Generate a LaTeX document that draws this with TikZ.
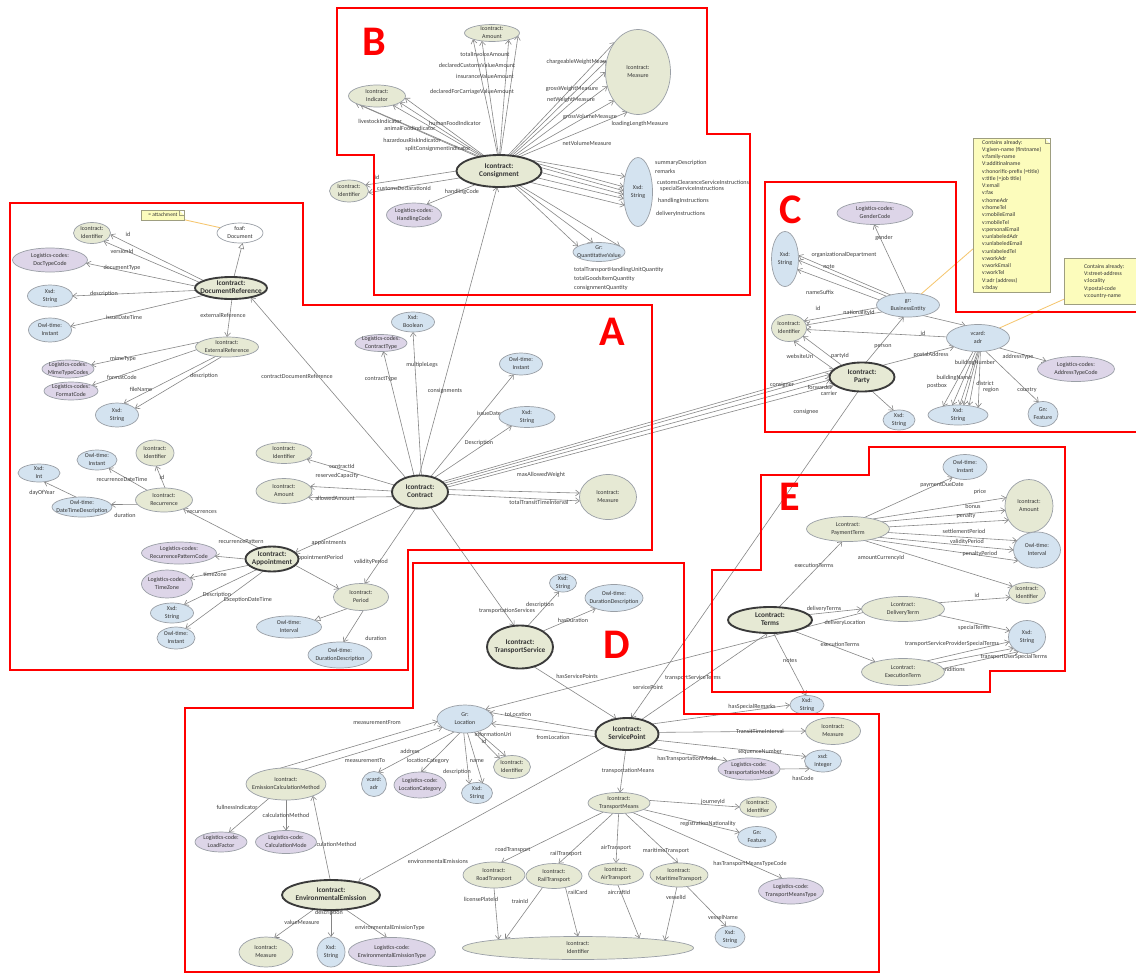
\documentclass[tikz,border=0pt]{standalone}
\usepackage{fontspec}
\setmainfont{Carlito}
\usepackage{tikz}
\usetikzlibrary{shapes.geometric,arrows.meta}

\definecolor{clsgreen}{HTML}{E6E9D4}
\definecolor{clsblue}{HTML}{D4E3F0}
\definecolor{clspurple}{HTML}{DDD5E8}
\definecolor{entline}{HTML}{9A9FA6}
\definecolor{mainline}{HTML}{3A3A3A}
\definecolor{edgegray}{HTML}{858585}
\definecolor{nodetext}{HTML}{333333}
\definecolor{labeltext}{HTML}{404040}
\definecolor{noteyellow}{HTML}{FCFCBC}
\definecolor{notegray}{HTML}{9E9E80}
\definecolor{noteorange}{HTML}{F6C66E}

\newcommand\entityfont{\fontsize{5.1}{6.3}\selectfont}
\newcommand\mainentfont{\bfseries\fontsize{6.2}{7.5}\selectfont}
\newcommand\labelfont{\fontsize{5.2}{6}\selectfont}
\newcommand\notefont{\fontsize{4.9}{6.2}\selectfont}
\newcommand\twol[2]{\makebox[0pt]{\smash{\raisebox{-1.2pt}{\begin{tabular}[c]{@{}c@{}}#1\\#2\end{tabular}}}}}

\tikzstyle{entity} = [ellipse, draw=entline, line width=0.6pt, inner sep=0pt, outer sep=0pt, text=nodetext, font=\entityfont]
\tikzstyle{classg} = [entity, fill=clsgreen]
\tikzstyle{classb} = [entity, fill=clsblue]
\tikzstyle{classp} = [entity, fill=clspurple]
\tikzstyle{classw} = [entity, fill=white]
\tikzstyle{mainc} = [entity, fill=clsgreen, draw=mainline, line width=1.6pt, font=\mainentfont]
\tikzstyle{arrow} = [draw=edgegray, line width=0.5pt, -{Straight Barb[length=3.4pt,width=5pt]}]
\tikzstyle{isa} = [draw=edgegray, line width=0.5pt, -{Triangle[open,length=5pt,width=5pt]}]
\tikzstyle{lbl} = [inner sep=0pt, text=labeltext, font=\labelfont]
\tikzstyle{notelink} = [draw=noteorange, line width=0.7pt]
\tikzstyle{region} = [draw=red, line width=2.4pt, line join=miter]
\tikzstyle{letter} = [inner sep=0pt, text=red, font=\bfseries\fontsize{36}{36}\selectfont]
\tikzstyle{notebox} = [rectangle, draw=notegray, fill=noteyellow, inner sep=1.6pt, align=left, text=black!80, font=\notefont,
  path picture={\fill[white] ([xshift=-1.6mm]path picture bounding box.north east) -- (path picture bounding box.north east) -- ([yshift=-1.6mm]path picture bounding box.north east) -- cycle;
  \draw[notegray] ([xshift=-1.6mm]path picture bounding box.north east) -- ([xshift=-1.6mm,yshift=-1.6mm]path picture bounding box.north east) -- ([yshift=-1.6mm]path picture bounding box.north east);}]
\tikzset{sz/.style 2 args={minimum width=#1*0.3mm, minimum height=#2*0.3mm}}

\pgfdeclarelayer{paper}
\pgfdeclarelayer{edgelayer}
\pgfsetlayers{paper,edgelayer,main}

\begin{document}
\begin{tikzpicture}[x=0.03cm, y=-0.03cm]
\useasboundingbox (0,0) rectangle (1136,974);
\begin{pgfonlayer}{paper}
\fill[white] (0,0) rectangle (1136,974);
\end{pgfonlayer}

% B: consignment
\node (cons) [mainc, sz={85}{32}] at (499,171) {\twol{Icontract:}{Consignment}};
\node (amtB) [classg, sz={55}{17}] at (492,33) {\twol{Icontract:}{Amount}};
\node (indB) [classg, sz={57}{22}] at (377,96) {\twol{Icontract:}{Indicator}};
\node (idB) [classg, sz={39}{22}] at (349,191) {\twol{Icontract:}{Identifier}};
\node (hcode) [classp, sz={55}{24}] at (414,215) {\twol{Logistics-codes:}{HandlingCode}};
\node (measB) [classg, sz={65}{85}] at (638,72) {\twol{Icontract:}{Measure}};
\node (strB) [classb, sz={29}{69}] at (638,192) {\twol{Xsd:}{String}};
\node (qval) [classb, sz={52}{19}] at (599,252) {\twol{Gr:}{QuantitativeValue}};

% A: document reference
\node (docref) [mainc, sz={72}{22}] at (231,288) {\twol{Icontract:}{DocumentReference}};
\node (idDoc) [classg, sz={37}{21}] at (92,233) {\twol{Icontract:}{Identifier}};
\node (foaf) [classw, sz={46}{20}] at (240,233) {\twol{foaf:}{Document}};
\node (doctype) [classp, sz={75}{24}] at (50,260) {\twol{Logistics-codes:}{DocTypeCode}};
\node (strDoc) [classb, sz={45}{22}] at (50,296) {\twol{Xsd:}{String}};
\node (instDoc) [classb, sz={43}{24}] at (50,330) {\twol{Owl-time:}{Instant}};
\node (extref) [classg, sz={63}{20}] at (227,347) {\twol{Icontract:}{ExternalReference}};
\node (mime) [classp, sz={52}{18}] at (68,369) {\twol{Logistics-codes:}{MimeTypeCodes}};
\node (fmt) [classp, sz={54}{18}] at (71,391) {\twol{Logistics-codes:}{FormatCode}};
\node (strExt) [classb, sz={43}{24}] at (117,415) {\twol{Xsd:}{String}};
\node (attach) [notebox, minimum width=43*0.3mm, minimum height=10*0.3mm, inner sep=0.5pt, font=\fontsize{4.6}{5}\selectfont] at (163,215) {= attachment};

% A: contract
\node (contract) [mainc, sz={56}{33}] at (420,492) {\twol{Icontract:}{Contract}};
\node (ctype) [classp, sz={52}{17}] at (381,343) {\twol{Logistics-codes:}{ContractType}};
\node (bool) [classb, sz={43}{20}] at (413,322) {\twol{Xsd:}{Boolean}};
\node (instCon) [classb, sz={43}{22}] at (521,364) {\twol{Owl-time:}{Instant}};
\node (strCon) [classb, sz={56}{21}] at (527,417) {\twol{Xsd:}{String}};
\node (idCon) [classg, sz={56}{21}] at (284,453) {\twol{Icontract:}{Identifier}};
\node (amtCon) [classg, sz={56}{25}] at (284,491) {\twol{Icontract:}{Amount}};
\node (measCon) [classg, sz={57}{45}] at (608,497) {\twol{Icontract:}{Measure}};

% A: appointment
\node (appt) [mainc, sz={53}{25}] at (272,559) {\twol{Icontract:}{Appointment}};
\node (rec) [classg, sz={57}{24}] at (164,500) {\twol{Icontract:}{Recurrence}};
\node (idRec) [classg, sz={38}{26}] at (155,453) {\twol{Icontract:}{Identifier}};
\node (instRec) [classb, sz={40}{20}] at (97,460) {\twol{Owl-time:}{Instant}};
\node (intRec) [classb, sz={42}{18}] at (39,473) {\twol{Xsd:}{Int}};
\node (dtdesc) [classb, sz={60}{20}] at (82,507) {\twol{Owl-time:}{DateTimeDescription}};
\node (recpat) [classp, sz={75}{22}] at (179,553) {\twol{Logistics-codes:}{RecurrencePatternCode}};
\node (tzone) [classp, sz={51}{28}] at (167,584) {\twol{Logistics-codes:}{TimeZone}};
\node (strApp) [classb, sz={43}{20}] at (172,613) {\twol{Xsd:}{String}};
\node (instApp) [classb, sz={38}{22}] at (176,638) {\twol{Owl-time:}{Instant}};
\node (period) [classg, sz={55}{27}] at (361,597) {\twol{Icontract:}{Period}};
\node (ivlPer) [classb, sz={65}{22}] at (289,627) {\twol{Owl-time:}{Interval}};
\node (durPer) [classb, sz={64}{26}] at (340,655) {\twol{Owl-time:}{DurationDescription}};

% D: transport service
\node (ts) [mainc, sz={66}{43}] at (520,647) {\twol{Icontract:}{TransportService}};
\node (strTs) [classb, sz={27}{18}] at (563,583) {\twol{Xsd:}{String}};
\node (durTs) [classb, sz={58}{27}] at (614,598) {\twol{Owl-time:}{DurationDescription}};
\node (loc) [classb, sz={56}{28}] at (465,719) {\twol{Gr:}{Location}};
\node (sp) [mainc, sz={63}{32}] at (627,734) {\twol{Icontract:}{ServicePoint}};
\node (idLoc) [classg, sz={37}{23}] at (512,767) {\twol{Icontract:}{Identifier}};
\node (strLoc) [classb, sz={31}{21}] at (477,793) {\twol{Xsd:}{String}};
\node (adrLoc) [classb, sz={25}{25}] at (374,784) {\twol{vcard:}{adr}};
\node (catLoc) [classp, sz={52}{26}] at (420,785) {\twol{Logistics-code:}{LocationCategory}};
\node (ecm) [classg, sz={80}{32}] at (286,784) {\twol{Icontract:}{EmissionCalculationMethod}};
\node (loadf) [classp, sz={52}{20}] at (221,842) {\twol{Logistics-code:}{LoadFactor}};
\node (calcm) [classp, sz={61}{23}] at (286,842) {\twol{Logistics-code:}{CalculationMode}};
\node (envem) [mainc, sz={98}{30}] at (331,895) {\twol{Icontract:}{EnvironmentalEmission}};
\node (measEm) [classg, sz={54}{30}] at (266,952) {\twol{Icontract:}{Measure}};
\node (strEm) [classb, sz={28}{30}] at (331,952) {\twol{Xsd:}{String}};
\node (typeEm) [classp, sz={87}{29}] at (392,952) {\twol{Logistics-code:}{EnvironmentalEmissionType}};
\node (strSp) [classb, sz={34}{19}] at (807,705) {\twol{Xsd:}{String}};
\node (measSp) [classg, sz={55}{27}] at (833,731) {\twol{Icontract:}{Measure}};
\node (intSp) [classb, sz={37}{22}] at (823,761) {\twol{xsd:}{Integer}};
\node (tmode) [classp, sz={62}{22}] at (749,769) {\twol{Logistics-code:}{TransportationMode}};
\node (tmeans) [classg, sz={62}{21}] at (619,803) {\twol{Icontract:}{TransportMeans}};
\node (idTm) [classg, sz={37}{20}] at (758,807) {\twol{Icontract:}{Identifier}};
\node (featTm) [classb, sz={39}{21}] at (757,837) {\twol{Gn:}{Feature}};
\node (typeTm) [classp, sz={65}{26}] at (791,891) {\twol{Logistics-code:}{TransportMeansType}};
\node (road) [classg, sz={62}{26}] at (494,875) {\twol{Icontract:}{RoadTransport}};
\node (rail) [classg, sz={56}{25}] at (554,876) {\twol{Icontract:}{RailTransport}};
\node (air) [classg, sz={55}{22}] at (616,874) {\twol{Icontract:}{AirTransport}};
\node (mar) [classg, sz={58}{24}] at (679,875) {\twol{Icontract:}{MaritimeTransport}};
\node (idBig) [classg, sz={231}{23}] at (578,948) {\twol{Icontract:}{Identifier}};
\node (strVes) [classb, sz={30}{22}] at (730,937) {\twol{Xsd:}{String}};

% E: terms
\node (terms) [mainc, sz={84}{26}] at (770,620) {\twol{Lcontract:}{Terms}};
\node (payterm) [classg, sz={83}{25}] at (848,529) {\twol{Lcontract:}{PaymentTerm}};
\node (instE) [classb, sz={44}{25}] at (965,467) {\twol{Owl-time:}{Instant}};
\node (amtE) [classg, sz={48}{53}] at (1029,506) {\twol{Icontract:}{Amount}};
\node (ivlE) [classb, sz={47}{36}] at (1037,550) {\twol{Owl-time:}{Interval}};
\node (idE) [classg, sz={37}{21}] at (1027,593) {\twol{Icontract:}{Identifier}};
\node (dterm) [classg, sz={83}{25}] at (903,609) {\twol{Lcontract:}{DeliveryTerm}};
\node (strE) [classb, sz={37}{33}] at (1027,637) {\twol{Xsd:}{String}};
\node (eterm) [classg, sz={83}{27}] at (903,672) {\twol{Lcontract:}{ExecutionTerm}};

% C: party
\node (party) [mainc, sz={65}{29}] at (862,377) {\twol{Icontract:}{Party}};
\node (gender) [classp, sz={76}{23}] at (875,213) {\twol{Logistics-codes:}{GenderCode}};
\node (strC) [classb, sz={27}{55}] at (785,259) {\twol{Xsd:}{String}};
\node (bent) [classb, sz={63}{24}] at (908,305) {\twol{gr:}{BusinessEntity}};
\node (idC) [classg, sz={35}{27}] at (789,328) {\twol{Icontract:}{Identifier}};
\node (adr) [classb, sz={63}{27}] at (978,338) {\twol{vcard:}{adr}};
\node (atype) [classp, sz={77}{25}] at (1076,369) {\twol{Logistics-codes:}{AddressTypeCode}};
\node (strParty) [classb, sz={32}{20}] at (899,420) {\twol{Xsd:}{String}};
\node (strAdr) [classb, sz={60}{20}] at (958,415) {\twol{Xsd:}{String}};
\node (featC) [classb, sz={30}{25}] at (1043,414) {\twol{Gn:}{Feature}};
\node (vcardnote) [notebox, anchor=north west, minimum width=77*0.3mm] at (973,138) {Contains already:\\V:given-name (firstname)\\v:family-name\\V:additinalname\\v:honorific-prefix (=title)\\v:title (=job title)\\V:email\\v:fax\\v:homeAdr\\v:homeTel\\v:mobileEmail\\v:mobileTel\\v:personalEmail\\v:unlabeledAdr\\v:unlabeledEmail\\v:unlabeledTel\\v:workAdr\\v:workEmail\\v:workTel\\V:adr (address)\\v:bday};
\node (adrnote) [notebox, anchor=north west, minimum width=80*0.3mm, minimum height=46*0.3mm] at (1064,258) {Contains already:\\V:street-address\\v:locality\\V:postal-code\\v:country-name};

\begin{pgfonlayer}{edgelayer}
% B edges
\draw [arrow] (cons.95) -- (amtB.-162);
\draw [arrow] (cons.92) -- (amtB.-142);
\draw [arrow] (cons.88) -- (amtB.-22);
\draw [arrow] (cons.85) -- (amtB.-6);
\draw [arrow] (cons.146) -- (indB.-161);
\draw [arrow] (cons.143) -- (indB.-152);
\draw [arrow] (cons.140) -- (indB.-30);
\draw [arrow] (cons.137) -- (indB.-16);
\draw [arrow] (cons.134) -- (indB.-4);
\draw [arrow] (cons.180) -- (idB.20);
\draw [arrow] (cons.190) -- (idB.-5);
\draw [arrow] (cons.-150) -- (hcode.40);
\draw [arrow] (cons.60) -- (measB.128);
\draw [arrow] (cons.55) -- (measB.160);
\draw [arrow] (cons.50) -- (measB.180);
\draw [arrow] (cons.45) -- (measB.205);
\draw [arrow] (cons.40) -- (measB.230);
\draw [arrow] (cons.35) -- (measB.255);
\draw [arrow] (cons.20) -- (strB.130);
\draw [arrow] (cons.12) -- (strB.160);
\draw [arrow] (cons.5) -- (strB.175);
\draw [arrow] (cons.-2) -- (strB.190);
\draw [arrow] (cons.-10) -- (strB.205);
\draw [arrow] (cons.-20) -- (strB.225);
\draw [arrow] (cons.-45) -- (qval.165);
\draw [arrow] (cons.-40) -- (qval.123);
\draw [arrow] (cons.-35) -- (qval.15);
\node [lbl] at (485,54) {totalInvoiceAmount};
\node [lbl] at (477,65) {declaredCustomsValueAmount};
\node [lbl] at (485,76) {insuranceValueAmount};
\node [lbl] at (472,92) {declaredForCarriageValueAmount};
\node [lbl] at (380,121) {livestockIndicator};
\node [lbl] at (410,128) {animalFoodIndicator};
\node [lbl] at (455,123) {humanFoodIndicator};
\node [lbl] at (412,140) {hazardousRiskIndicator};
\node [lbl] at (438,149) {splitConsignmentIndicator};
\node [lbl] at (377,177) {id};
\node [lbl] at (404,188) {customsDeclarationId};
\node [lbl] at (462,192) {handlingCode};
\node [lbl] at (580,62) {chargeableWeightMeasure};
\node [lbl] at (572,89) {grossWeightMeasure};
\node [lbl] at (571,100) {netWeightMeasure};
\node [lbl] at (590,117) {grossVolumeMeasure};
\node [lbl] at (640,124) {loadingLengthMeasure};
\node [lbl] at (587,143) {netVolumeMeasure};
\node [lbl, anchor=west] at (655,163) {summaryDescription};
\node [lbl, anchor=west] at (655,171) {remarks};
\node [lbl, anchor=west] at (657,182) {customsClearanceServiceInstructions};
\node [lbl, anchor=west] at (660,189) {specialServiceInstructions};
\node [lbl, anchor=west] at (658,201) {handlingInstructions};
\node [lbl, anchor=west] at (656,214) {deliveryInstructions};
\node [lbl, anchor=west] at (574,270) {totalTransportHandlingUnitQuantity};
\node [lbl, anchor=west] at (574,279) {totalGoodsItemQuantity};
\node [lbl, anchor=west] at (574,288) {consignmentQuantity};

% A: document reference edges
\draw [arrow] (docref.165) -- (idDoc.-5);
\draw [arrow] (docref.170) -- (idDoc.-35);
\draw [arrow] (docref.177) -- (doctype.-5);
\draw [arrow] (docref.184) -- (strDoc.0);
\draw [arrow] (docref.195) -- (instDoc.10);
\draw [isa] (docref.75) -- (foaf.-75);
\draw [arrow] (docref.-85) -- (extref.90);
\draw [arrow] (extref.170) -- (mime.10);
\draw [arrow] (extref.185) -- (fmt.15);
\draw [arrow] (extref.-140) -- (strExt.60);
\draw [arrow] (extref.-120) -- (strExt.20);
\draw [notelink] (attach) -- (foaf.165);
\node [lbl] at (128,234) {id};
\node [lbl] at (122,251) {versionId};
\node [lbl] at (122,268) {documentType};
\node [lbl] at (104,294) {description};
\node [lbl] at (124,317) {issueDateTime};
\node [lbl] at (223,315) {externalReference};
\node [lbl] at (123,359) {mimeType};
\node [lbl] at (122,377) {formatCode};
\node [lbl] at (141,389) {fileName};
\node [lbl] at (204,376) {description};
\node [lbl] at (297,376) {contractDocumentReference};

% A: contract edges
\draw [arrow] (contract.93) -- (cons.-97);
\draw [arrow] (contract.110) -- (ctype.-75);
\draw [arrow] (contract.85) -- (bool.-90);
\draw [arrow] (contract.55) -- (instCon.-125);
\draw [arrow] (contract.45) -- (strCon.-150);
\draw [arrow] (contract.165) -- (idCon.-15);
\draw [arrow] (contract.178) -- (amtCon.10);
\draw [arrow] (contract.190) -- (amtCon.-15);
\draw [arrow] (contract.5) -- (measCon.172);
\draw [arrow] (contract.-5) -- (measCon.188);
\draw [arrow] (contract.25) -- (party.165);
\draw [arrow] (contract.20) -- (party.175);
\draw [arrow] (contract.15) -- (party.185);
\draw [arrow] (contract.10) -- (party.195);
\draw [arrow] (contract.135) -- (docref.-25);
\draw [arrow] (contract.215) -- (appt.15);
\draw [arrow] (contract.-105) -- (period.75);
\draw [arrow] (contract.-55) -- (ts.105);
\node [lbl] at (422,365) {multipleLegs};
\node [lbl] at (381,379) {contractType};
\node [lbl] at (445,391) {consignments};
\node [lbl] at (489,413) {issueDate};
\node [lbl] at (479,443) {Description};
\node [lbl] at (342,466) {contractId};
\node [lbl] at (337,476) {reservedCapacity};
\node [lbl] at (335,498) {allowedAmount};
\node [lbl] at (541,475) {maxAllowedWeight};
\node [lbl] at (539,502) {totalTransitTimeInterval};
\node [lbl] at (329,543) {appointments};
\node [lbl] at (319,558) {appointmentPeriod};
\node [lbl] at (371,562) {validityPeriod};
\node [lbl] at (782,385) {consigner};
\node [lbl] at (820,387) {forwarder};
\node [lbl] at (829,393) {carrier};
\node [lbl] at (806,412) {consignee};

% A: appointment edges
\draw [arrow] (appt.-15) -- (period.160);
\draw [arrow] (appt.140) -- (rec.-25);
\draw [arrow] (appt.180) -- (recpat.-5);
\draw [arrow] (appt.195) -- (tzone.15);
\draw [arrow] (appt.215) -- (strApp.35);
\draw [arrow] (appt.-125) -- (instApp.45);
\draw [isa] (period.-140) -- (ivlPer.15);
\draw [arrow] (period.-80) -- (durPer.75);
\draw [arrow] (rec.85) -- (idRec.-85);
\draw [arrow] (rec.150) -- (instRec.-35);
\draw [arrow] (rec.190) -- (dtdesc.5);
\draw [arrow] (dtdesc.120) -- (intRec.-60);
\node [lbl] at (162,477) {id};
\node [lbl] at (122,479) {recurrenceDateTime};
\node [lbl] at (42,493) {dayOfYear};
\node [lbl] at (125,515) {duration};
\node [lbl] at (202,512) {recurrences};
\node [lbl] at (241,542) {recurrencePattern};
\node [lbl] at (215,574) {timeZone};
\node [lbl] at (217,595) {Description};
\node [lbl] at (248,600) {ExceptionDateTime};
\node [lbl] at (376,638) {duration};

% D edges
\draw [arrow] (ts.70) -- (strTs.-115);
\draw [arrow] (ts.35) -- (durTs.-150);
\draw [arrow] (ts.-55) -- (sp.125);
\draw [arrow] (party.-105) -- (sp.75);
\draw [arrow] (sp.45) -- (terms.-100);
\draw [arrow] (sp.22) -- (strSp.180);
\draw [arrow] (sp.3) -- (measSp.180);
\draw [arrow] (sp.-12) -- (intSp.165);
\draw [arrow] (sp.-35) -- (tmode.160);
\draw [arrow] (tmode.0) -- (intSp.-150);
\draw [arrow] (sp.-95) -- (tmeans.85);
\draw [arrow] (sp.175) -- (loc.15);
\draw [arrow] (sp.185) -- (loc.-10);
\draw [arrow] (sp.-150) -- (envem.25);
\draw [arrow] (dterm.185) -- (loc.25);
\draw [arrow] (loc.-45) -- (idLoc.120);
\draw [arrow] (loc.-55) -- (idLoc.145);
\draw [arrow] (loc.-95) -- (strLoc.130);
\draw [arrow] (loc.-80) -- (strLoc.60);
\draw [arrow] (loc.-130) -- (adrLoc.70);
\draw [arrow] (loc.-110) -- (catLoc.85);
\draw [arrow] (ecm.110) -- (loc.185);
\draw [arrow] (ecm.40) -- (loc.200);
\draw [arrow] (ecm.-140) -- (loadf.50);
\draw [arrow] (ecm.-90) -- (calcm.90);
\draw [arrow] (envem.93) -- (ecm.-24);
\draw [arrow] (envem.-140) -- (measEm.60);
\draw [arrow] (envem.-90) -- (strEm.90);
\draw [arrow] (envem.-45) -- (typeEm.110);
\draw [arrow] (tmeans.5) -- (idTm.180);
\draw [arrow] (tmeans.-15) -- (featTm.165);
\draw [arrow] (tmeans.-35) -- (typeTm.125);
\draw [arrow] (tmeans.-150) -- (road.60);
\draw [arrow] (tmeans.-120) -- (rail.70);
\draw [arrow] (tmeans.-92) -- (air.90);
\draw [arrow] (tmeans.-60) -- (mar.95);
\draw [arrow] (road.-90) -- (idBig.174);
\draw [arrow] (rail.-135) -- (idBig.173);
\draw [arrow] (rail.-45) -- (idBig.90);
\draw [arrow] (air.-80) -- (idBig.9);
\draw [arrow] (mar.-100) -- (idBig.5);
\draw [arrow] (mar.-55) -- (strVes.110);
\node [lbl] at (507,611) {transportationServices};
\node [lbl] at (540,605) {description};
\node [lbl] at (573,620) {hasDuration};
\node [lbl] at (577,676) {hasServicePoints};
\node [lbl] at (648,687) {servicePoint};
\node [lbl] at (693,678) {transportServiceTerms};
\node [lbl] at (752,707) {hasSpecialRemarks};
\node [lbl] at (760,731) {TransitTimeInterval};
\node [lbl] at (760,752) {sequenceNumber};
\node [lbl] at (687,759) {hasTransportationMode};
\node [lbl] at (803,778) {hasCode};
\node [lbl] at (628,771) {transportationMeans};
\node [lbl] at (713,802) {journeyId};
\node [lbl] at (708,824) {registrationNationality};
\node [lbl] at (750,864) {hasTransportMeansTypeCode};
\node [lbl] at (513,850) {roadTransport};
\node [lbl] at (566,854) {railTransport};
\node [lbl] at (616,848) {airTransport};
\node [lbl] at (666,851) {maritimeTransport};
\node [lbl] at (481,899) {licensePlateId};
\node [lbl] at (520,901) {trainId};
\node [lbl] at (578,892) {railCard};
\node [lbl] at (619,892) {aircraftId};
\node [lbl] at (676,897) {vesselId};
\node [lbl] at (723,917) {vesselName};
\node [lbl] at (518,714) {toLocation};
\node [lbl] at (553,737) {fromLocation};
\node [lbl] at (493,734) {informationUri};
\node [lbl] at (484,741) {id};
\node [lbl] at (477,761) {name};
\node [lbl] at (457,772) {description};
\node [lbl] at (410,751) {address};
\node [lbl] at (428,761) {locationCategory};
\node [lbl] at (377,723) {measurementFrom};
\node [lbl] at (365,761) {measurementTo};
\node [lbl] at (237,807) {fullnessIndicator};
\node [lbl] at (286,815) {calculationMethod};
\node [lbl] at (333,844) {calculationMethod};
\node [lbl] at (438,861) {environmentalEmissions};
\node [lbl] at (329,913) {description};
\node [lbl] at (302,922) {valueMeasure};
\node [lbl] at (390,928) {environmentalEmissionType};

% E edges
\draw [arrow] (terms.55) -- (payterm.-115);
\draw [arrow] (terms.8) -- (dterm.180);
\draw [arrow] (terms.-25) -- (eterm.160);
\draw [arrow] (terms.-75) -- (strSp.95);
\draw [arrow] (payterm.35) -- (instE.-140);
\draw [arrow] (payterm.22) -- (amtE.160);
\draw [arrow] (payterm.12) -- (amtE.190);
\draw [arrow] (payterm.3) -- (amtE.215);
\draw [arrow] (payterm.-5) -- (ivlE.155);
\draw [arrow] (payterm.-15) -- (ivlE.180);
\draw [arrow] (payterm.-25) -- (ivlE.210);
\draw [arrow] (payterm.-35) -- (idE.155);
\draw [arrow] (dterm.10) -- (idE.195);
\draw [arrow] (dterm.-10) -- (strE.160);
\draw [arrow] (eterm.25) -- (strE.195);
\draw [arrow] (eterm.15) -- (strE.220);
\draw [arrow] (eterm.5) -- (strE.240);
\node [lbl] at (942,485) {paymentDueDate};
\node [lbl] at (980,492) {price};
\node [lbl] at (973,506) {bonus};
\node [lbl] at (966,516) {penalty};
\node [lbl] at (964,531) {settlementPeriod};
\node [lbl] at (967,542) {validityPeriod};
\node [lbl] at (980,554) {penaltyPeriod};
\node [lbl] at (881,558) {amountCurrencyId};
\node [lbl] at (814,565) {executionTerms};
\node [lbl] at (824,609) {deliveryTerms};
\node [lbl] at (845,623) {deliveryLocation};
\node [lbl] at (840,644) {executionTerms};
\node [lbl] at (977,595) {id};
\node [lbl] at (974,628) {specialTerms};
\node [lbl] at (952,644) {transportServiceProviderSpecialTerms};
\node [lbl] at (1014,657) {transportUserSpecialTerms};
\node [lbl] at (952,669) {conditions};
\node [lbl] at (790,661) {notes};

% C edges
\draw [arrow] (party.75) -- (bent.-110);
\draw [arrow] (party.150) -- (idC.-30);
\draw [arrow] (party.165) -- (idC.-70);
\draw [arrow] (party.30) -- (adr.-160);
\draw [arrow] (party.-55) -- (strParty.120);
\draw [arrow] (bent.100) -- (gender.-95);
\draw [arrow] (bent.150) -- (strC.15);
\draw [arrow] (bent.158) -- (strC.-5);
\draw [arrow] (bent.170) -- (strC.-40);
\draw [arrow] (bent.185) -- (idC.25);
\draw [arrow] (bent.195) -- (idC.10);
\draw [arrow] (bent.-35) -- (adr.135);
\draw [arrow] (adr.178) -- (idC.-5);
\draw [arrow] (adr.-25) -- (atype.165);
\draw [arrow] (adr.-60) -- (featC.110);
\draw [arrow] (adr.-110) -- (strAdr.150);
\draw [arrow] (adr.-100) -- (strAdr.120);
\draw [arrow] (adr.-92) -- (strAdr.80);
\draw [arrow] (adr.-88) -- (strAdr.60);
\draw [arrow] (adr.-84) -- (strAdr.40);
\draw [arrow] (adr.-80) -- (strAdr.20);
\draw [notelink] (bent.40) -- (vcardnote);
\draw [notelink] (adr.25) -- (adrnote);
\node [lbl] at (884,238) {gender};
\node [lbl] at (844,255) {organizationalDepartment};
\node [lbl] at (829,267) {note};
\node [lbl] at (820,292) {nameSuffix};
\node [lbl] at (818,308) {id};
\node [lbl] at (859,313) {nationalityId};
\node [lbl] at (923,333) {id};
\node [lbl] at (800,356) {websiteUri};
\node [lbl] at (840,356) {partyId};
\node [lbl] at (883,347) {person};
\node [lbl] at (931,355) {postalAddress};
\node [lbl] at (1018,357) {addressType};
\node [lbl] at (975,363) {buildingNumber};
\node [lbl] at (954,378) {buildingName};
\node [lbl] at (937,386) {postbox};
\node [lbl] at (985,383) {district};
\node [lbl] at (991,390) {region};
\node [lbl] at (1027,390) {country};
\end{pgfonlayer}

% regions
\draw [region] (10,203) -- (303,203) -- (303,305) -- (652,305) -- (652,550) -- (408,550) -- (408,670) -- (10,670) -- cycle;
\draw [region] (337,8) -- (707,8) -- (707,134) -- (750,134) -- (750,295) -- (374,295) -- (374,155) -- (337,155) -- cycle;
\draw [region] (765,182) -- (956,182) -- (956,312) -- (1140,312) -- (1140,432) -- (765,432) -- cycle;
\draw [region] (413,563) -- (684,563) -- (684,714) -- (879,714) -- (879,972) -- (185,972) -- (185,708) -- (413,708) -- cycle;
\draw [region] (869,447) -- (1065,447) -- (1065,671) -- (990,671) -- (990,692) -- (712,692) -- (712,570) -- (761,570) -- (761,475) -- (869,475) -- cycle;
\node (letterA) [letter] at (612,332) {A};
\node (letterB) [letter] at (374,42) {B};
\node (letterC) [letter] at (791,210) {C};
\node (letterD) [letter] at (617,645) {D};
\node (letterE) [letter] at (790,497) {E};
\end{tikzpicture}
\end{document}
